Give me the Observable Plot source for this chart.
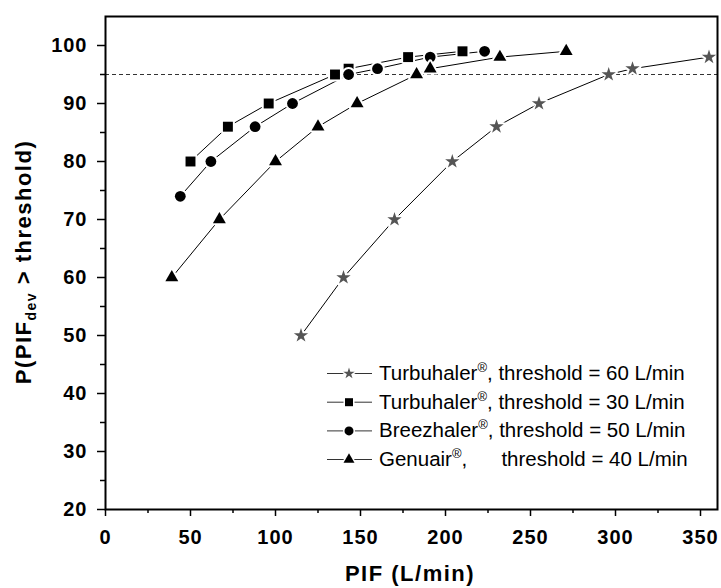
<!DOCTYPE html>
<html>
<head>
<meta charset="utf-8">
<script src="https://cdn.jsdelivr.net/npm/d3@7"></script>
<script src="https://cdn.jsdelivr.net/npm/@observablehq/plot@0.6"></script>
<style>
  html, body { margin: 0; padding: 0; background: #fff; }
  #chart { width: 721px; height: 588px; position: relative; }
  #chart svg { font-family: "Liberation Sans", Arial, sans-serif; }
  g[aria-label$="tick label"] { letter-spacing: 1px; }
</style>
</head>
<body>
<div id="chart"></div>
<script>
// ---- data ----
const seriesNames = [
  "Turbuhaler60", "Turbuhaler30", "Breezhaler50", "Genuair40"
];
const turbu60X = [115, 140, 170, 204, 230, 255, 296, 310, 355];
const turbu60Y = [50, 60, 70, 80, 86, 90, 95, 96, 98];
const turbu30X = [50, 72, 96, 135, 143, 178, 210];
const turbu30Y = [80, 86, 90, 95, 96, 98, 99];
const breezX = [44, 62, 88, 110, 143, 160, 191, 223];
const breezY = [74, 80, 86, 90, 95, 96, 98, 99];
const genuX = [39, 67, 100, 125, 148, 183, 191, 232, 271];
const genuY = [60, 70, 80, 86, 90, 95, 96, 98, 99];
const thresholdLine = [95];
const xTicks = [0, 50, 100, 150, 200, 250, 300, 350];
const xMinorTicks = [25, 75, 125, 175, 225, 275, 325];
const yTicks = [20, 30, 40, 50, 60, 70, 80, 90, 100];
const yMinorTicks = [25, 35, 45, 55, 65, 75, 85, 95];
const legendDevices = ["Turbuhaler", "Turbuhaler", "Breezhaler", "Genuair"];
const legendThresholds = ["threshold = 60 L/min", "threshold = 30 L/min", "threshold = 50 L/min", "threshold = 40 L/min"];

const xsList = [turbu60X, turbu30X, breezX, genuX];
const ysList = [turbu60Y, turbu30Y, breezY, genuY];
const data = [];
seriesNames.forEach((s, i) => {
  xsList[i].forEach((x, j) => data.push({series: s, x, y: ysList[i][j]}));
});
const of = s => data.filter(d => d.series === s);

const styles = {
  Turbuhaler60: {symbol: "star", r: 4.5, fill: "#555"},
  Turbuhaler30: {symbol: "square", r: 5.6, fill: "black"},
  Breezhaler50: {symbol: "circle", r: 5.4, fill: "black"},
  Genuair40: {symbol: "triangle", r: 4.8, fill: "black"}
};

const dotMarks = seriesNames.map(s => Plot.dot(of(s), {
  x: "x", y: "y",
  symbol: styles[s].symbol, r: styles[s].r, fill: styles[s].fill,
  stroke: "white", strokeWidth: 4, paintOrder: "stroke", strokeLinejoin: "round"
}));

const svg = Plot.plot({
  width: 721, height: 588,
  marginLeft: 105, marginRight: 4, marginTop: 16, marginBottom: 79,
  x: {domain: [0, 360]},
  y: {domain: [20, 105]},
  marks: [
    Plot.ruleY(thresholdLine, {stroke: "#333", strokeWidth: 1, strokeDasharray: "4,3"}),
    Plot.line(data, {x: "x", y: "y", z: "series", stroke: "black", strokeWidth: 1}),
    ...dotMarks,
    Plot.axisX({ticks: xTicks, tickSize: 7, tickPadding: 13, fontSize: 20, fontWeight: "bold", label: null, stroke: "black", strokeWidth: 1.5, fill: "black"}),
    Plot.axisX({ticks: xMinorTicks, tickSize: 4, text: null, label: null, stroke: "black", strokeWidth: 1.5}),
    Plot.axisY({ticks: yTicks, tickSize: 8, tickPadding: 10, fontSize: 20, fontWeight: "bold", label: null, stroke: "black", strokeWidth: 1.5, fill: "black"}),
    Plot.axisY({ticks: yMinorTicks, tickSize: 5, text: null, label: null, stroke: "black", strokeWidth: 1.5}),
    Plot.frame({stroke: "black", strokeWidth: 2})
  ]
});
document.getElementById("chart").appendChild(svg);

// ---- axis titles ----
const root = d3.select(svg);
const titles = root.append("g").attr("fill", "black");
titles.append("text")
  .attr("x", 410).attr("y", 581)
  .attr("text-anchor", "middle")
  .style("font-size", "22px").style("font-weight", "bold").style("letter-spacing", "1.5px")
  .text("PIF (L/min)");
const yt = titles.append("text")
  .attr("transform", "translate(31,262) rotate(-90)")
  .attr("text-anchor", "middle")
  .style("font-size", "22px").style("font-weight", "bold").style("letter-spacing", "1.5px");
yt.append("tspan").text("P(PIF");
yt.append("tspan").attr("dy", 5).style("font-size", "14px").text("dev");
yt.append("tspan").attr("dy", -5).text(" > threshold)");

// ---- legend ----
const legendSymbols = [d3.symbolStar, d3.symbolSquare, d3.symbolCircle, d3.symbolTriangle];
const legendSizes = [40, 64, 64, 52];
const legendFills = ["#555", "black", "black", "black"];
const lg = root.append("g").attr("text-anchor", "start");
const rowBase = [380, 408.7, 437.4, 466];
seriesNames.forEach((s, i) => {
  const cy = rowBase[i] - 6.5;
  lg.append("line").attr("x1", 327).attr("x2", 372).attr("y1", cy).attr("y2", cy)
    .attr("stroke", "#333").attr("stroke-width", 1);
  lg.append("path").attr("transform", `translate(349,${cy})`)
    .attr("d", d3.symbol(legendSymbols[i], legendSizes[i])())
    .attr("fill", legendFills[i]).attr("stroke", "white").attr("stroke-width", 3)
    .attr("paint-order", "stroke");
  const t = lg.append("text").attr("x", 379).attr("y", rowBase[i])
    .attr("text-anchor", "start")
    .style("font-size", "20.5px").style("white-space", "pre").attr("fill", "black");
  t.append("tspan").text(legendDevices[i]);
  t.append("tspan").attr("dy", -8).style("font-size", "13px").text("®");
  t.append("tspan").attr("dy", 8).text(i === 3 ? ",      " + legendThresholds[i] : ", " + legendThresholds[i]);
});
</script>
</body>
</html>
